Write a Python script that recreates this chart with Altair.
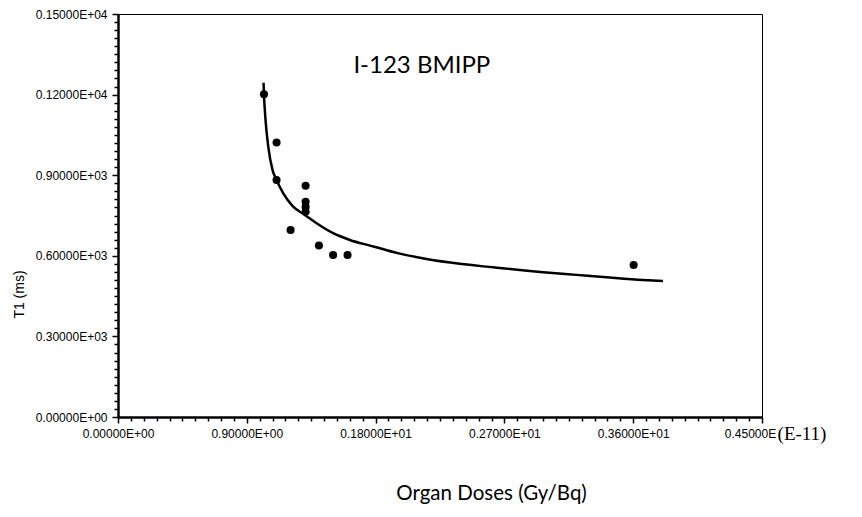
import altair as alt
import pandas as pd
import numpy as np

# measured points
pt_x = [1.020, 1.108, 1.108, 1.311, 1.311, 1.311, 1.311, 1.206, 1.404, 1.503, 1.604, 3.603]
pt_y = [1201, 1022, 882, 861, 801, 782, 764, 696, 638, 603, 603, 566]

# fitted curve
cv_x = [1.017, 1.020, 1.031, 1.050, 1.080, 1.108, 1.154, 1.224, 1.306, 1.388, 1.503,
        1.620, 1.760, 1.830, 1.969, 2.156, 2.388, 2.621, 2.807, 2.970, 3.203, 3.436,
        3.668, 3.808]
cv_y = [1244, 1201, 1105, 1006, 919, 882, 833, 783, 752, 721, 684,
        659, 638, 628, 608, 588, 570, 557, 547, 539, 529, 519,
        510, 506]

x_major = [0.0, 0.9, 1.8, 2.7, 3.6, 4.5]
x_labels = ["0.00000E+00", "0.90000E+00", "0.18000E+01", "0.27000E+01", "0.36000E+01", "0.45000E"]
y_major = [0, 300, 600, 900, 1200, 1500]
y_labels = ["0.00000E+00", "0.30000E+03", "0.60000E+03", "0.90000E+03", "0.12000E+04", "0.15000E+04"]

x_ticks = [round(i * 0.09, 2) for i in range(51)]
y_ticks = [i * 30 for i in range(51)]


def label_expr(vals, labs):
    expr = "''"
    for v, l in reversed(list(zip(vals, labs))):
        expr = f"abs(datum.value - {v}) < 1e-6 ? '{l}' : ({expr})"
    return expr


def major_test(vals):
    return " || ".join(f"abs(datum.value - {v}) < 1e-6" for v in vals)


pts = pd.DataFrame({"x": pt_x, "y": pt_y})
cv = pd.DataFrame({"x": cv_x, "y": cv_y})

xscale = alt.Scale(domain=[0, 4.5], nice=False, zero=False)
yscale = alt.Scale(domain=[0, 1500], nice=False, zero=False)

xaxis = alt.Axis(
    values=x_ticks,
    labelExpr=label_expr(x_major, x_labels),
    labelOverlap=False, labelFlush=False, labelBound=False,
    tickSize={"condition": {"test": major_test(x_major), "value": 6}, "value": 4},
    labelOffset={"condition": {"test": "abs(datum.value - 4.5) < 1e-6", "value": -12}, "value": 0},
    labelFont="Liberation Sans", labelFontSize=12, labelColor="black", labelPadding=5,
    tickColor="black", tickWidth=1.5, domainColor="black", domainWidth=2.5, grid=False,
    title="Organ Doses (Gy/Bq)", titleFont="Lato", titleFontSize=20.5, titleFontWeight="normal",
    titleColor="black", titleX=373, titleY=76, titleAlign="center", titleBaseline="middle",
)
yaxis = alt.Axis(
    values=y_ticks,
    labelExpr=label_expr(y_major, y_labels),
    labelOverlap=False, labelFlush=False, labelBound=False,
    tickSize={"condition": {"test": major_test(y_major), "value": 6}, "value": 4},
    labelFont="Liberation Sans", labelFontSize=12, labelColor="black", labelPadding=5,
    tickColor="black", tickWidth=1.5, domainColor="black", domainWidth=2.5, grid=False,
    title="T1 (ms)", titleFont="Liberation Sans", titleFontSize=14, titleFontWeight="normal",
    titleColor="black", titleX=-99, titleY=280, titleAlign="center", titleBaseline="middle",
)


def X(**kw):
    return alt.X(scale=xscale, axis=xaxis, **kw)


def Y(**kw):
    return alt.Y(scale=yscale, axis=yaxis, **kw)


line = alt.Chart(cv).mark_line(color="black", strokeWidth=2.5, interpolate="monotone").encode(
    x=X(field="x", type="quantitative"),
    y=Y(field="y", type="quantitative"),
)
points = alt.Chart(pts).mark_circle(color="black", opacity=1, size=65).encode(
    x=X(field="x", type="quantitative"),
    y=Y(field="y", type="quantitative"),
)
title = alt.Chart().mark_text(font="Lato", fontSize=24, color="black", align="center",
                              baseline="middle").encode(
    x=X(datum=2.123, type="quantitative"), y=Y(datum=1305, type="quantitative"),
    text=alt.value("I-123 BMIPP"))
exp = alt.Chart().mark_text(font="Liberation Serif", fontSize=19, color="black", align="center",
                            baseline="middle", dx=40, dy=17).encode(
    x=X(datum=4.5, type="quantitative"), y=Y(datum=0, type="quantitative"),
    text=alt.value("(E-11)"))

chart = alt.layer(line, points, title, exp).properties(
    width=644, height=403,
    padding={"left": 110, "top": 6, "right": 80, "bottom": 88},
    autosize="none",
    background="white",
).configure_view(stroke="black", strokeWidth=1)

chart.save("out.html", embed_options={"renderer": "svg", "actions": False})
